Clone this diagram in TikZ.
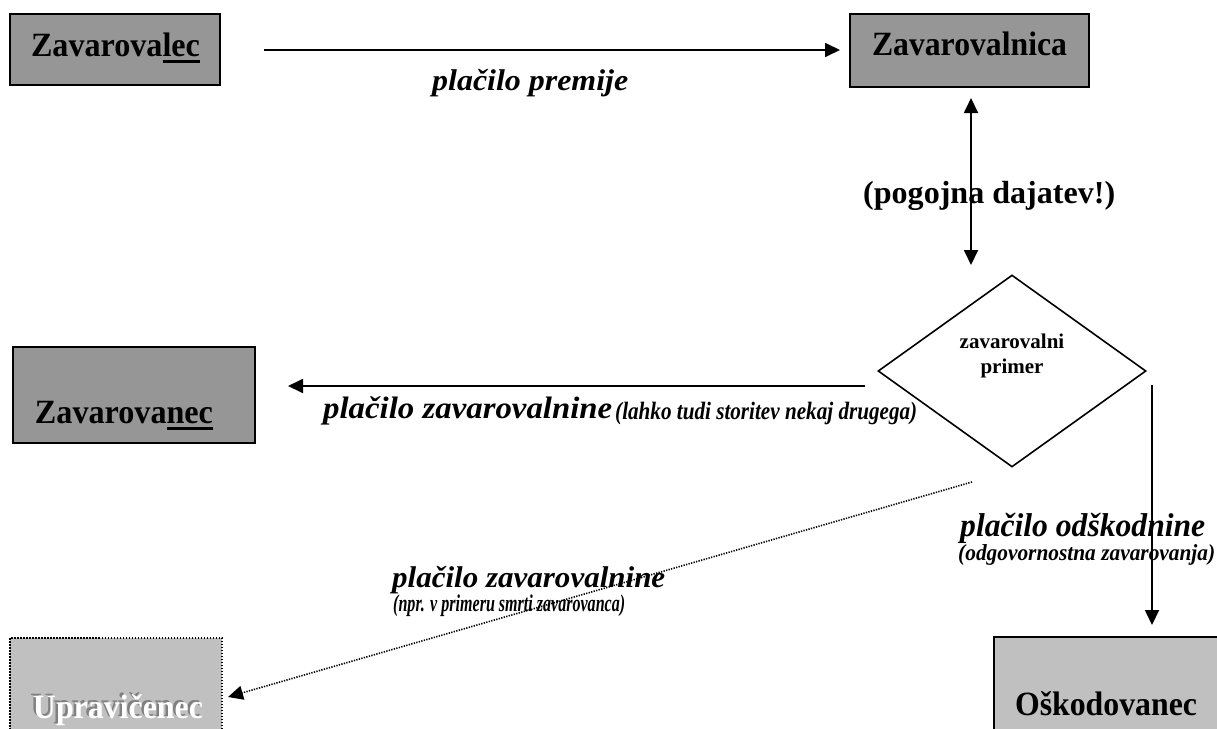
\documentclass[tikz,border=0pt]{standalone}
\usepackage{fontspec}
\setmainfont{Liberation Serif}
\usepackage{graphicx}
\usetikzlibrary{arrows.meta,shapes.geometric}
\definecolor{boxdark}{RGB}{150,150,150}
\definecolor{boxlight}{RGB}{192,192,192}
\definecolor{shadowgray}{RGB}{128,128,128}
\newcommand\ulpart[1]{\setbox0\hbox{#1}\rlap{\rule[-6.5pt]{\wd0}{2.6pt}}\box0}
\newcommand\fitw[2]{\resizebox{#1}{\height}{#2}}
\begin{document}
\begin{tikzpicture}[x=1pt,y=-1pt,
  darkbox/.style={draw=black, line width=2pt, fill=boxdark, inner sep=0pt},
  lightbox/.style={draw=black, line width=1.8pt, fill=boxlight, inner sep=0pt},
  boxtext/.style={font=\fontsize{34}{38}\selectfont\bfseries, anchor=base, inner sep=0pt},
  lbl/.style={anchor=base west, inner sep=0pt},
  conn/.style={line width=1.8pt, -{Triangle[length=15pt,width=14pt]}},
  dconn/.style={line width=1.8pt, {Triangle[length=15pt,width=14pt]}-{Triangle[length=15pt,width=14pt]}},
  dotconn/.style={line width=1.6pt, dash pattern=on 1.3pt off 1.3pt, -{Triangle[length=15pt,width=14pt]}},
]
\clip (0,0) rectangle (1217,728);
\fill[white] (0,0) rectangle (1217,728);

% boxes
\node[darkbox, minimum width=210pt, minimum height=71pt] (zvc) at (115,49.5) {};
\node[darkbox, minimum width=239pt, minimum height=73pt] (zvn) at (969.5,50.5) {};
\node[darkbox, minimum width=242pt, minimum height=96pt] (zvnec) at (134,395) {};
\node[lightbox, draw=black, dash pattern=on 1.5pt off 1.5pt, line width=1.5pt, minimum width=212pt, minimum height=170pt] (upr) at (116,723) {};
\node[lightbox, minimum width=266pt, minimum height=170pt] (osk) at (1127,722) {};
\node[diamond, draw=black, line width=1.6pt, fill=white, inner sep=0pt, minimum width=268pt, minimum height=192pt] (prim) at (1012,371) {};

% box texts
\node[boxtext] (tzvc) at (115.5,56) {\fitw{169pt}{Zavarova\ulpart{lec}}};
\node[boxtext] (tzvn) at (969.5,55) {\fitw{195pt}{Zavarovalnica}};
\node[boxtext] (tzvnec) at (124,423) {\fitw{178pt}{Zavarova\ulpart{nec}}};
\node[boxtext, text=shadowgray] (tuprs) at (115.5,716.5) {\fitw{170pt}{Upravičenec}};
\node[boxtext, text=white] (tupr) at (118,718.5) {\fitw{170pt}{Upravičenec}};
\node[boxtext] (tosk) at (1106,715) {\fitw{182pt}{Oškodovanec}};
\node[anchor=base, inner sep=0pt, font=\fontsize{21}{24}\selectfont\bfseries] (tprim1) at (1012,348) {zavarovalni};
\node[anchor=base, inner sep=0pt, font=\fontsize{21}{24}\selectfont\bfseries] (tprim2) at (1012,373) {primer};

% connector end points
\coordinate (a1) at (264,50);
\coordinate (a2) at (840,50);
\coordinate (b1) at (971,98);
\coordinate (b2) at (971,265);
\coordinate (c1) at (865,386);
\coordinate (c2) at (288,386);
\coordinate (d1) at (1152,385);
\coordinate (d2) at (1152,625);
\coordinate (e1) at (972,482);
\coordinate (e2) at (228,697);

\draw[conn] (a1) -- (a2);
\draw[dconn] (b1) -- (b2);
\draw[conn] (c1) -- (c2);
\draw[conn] (d1) -- (d2);
\draw[dotconn] (e1) -- (e2);

% labels
\node[lbl, font=\fontsize{30}{34}\selectfont\bfseries\itshape] (l1) at (432,90) {\fitw{196pt}{plačilo premije}};
\node[lbl, font=\fontsize{32}{36}\selectfont\bfseries] (l2) at (863,203) {\fitw{252pt}{(pogojna dajatev!)}};
\node[lbl, font=\fontsize{31}{34}\selectfont\bfseries\itshape] (l3) at (323,418) {\fitw{289pt}{plačilo zavarovalnine}};
\node[lbl, font=\fontsize{25}{28}\selectfont\bfseries\itshape] (l3b) at (615,419) {\fitw{302pt}{(lahko tudi storitev nekaj drugega)}};
\node[lbl, font=\fontsize{33}{36}\selectfont\bfseries\itshape] (l4) at (960,536) {\fitw{245pt}{plačilo odškodnine}};
\node[lbl, font=\fontsize{23}{26}\selectfont\bfseries\itshape] (l4b) at (958,560) {\fitw{257pt}{(odgovornostna zavarovanja)}};
\node[lbl, font=\fontsize{30}{34}\selectfont\bfseries\itshape] (l5) at (392,587) {\fitw{273pt}{plačilo zavarovalnine}};
\node[lbl, font=\fontsize{24}{28}\selectfont\bfseries\itshape] (l5b) at (393,611) {\fitw{232pt}{(npr. v primeru smrti zavarovanca)}};
\end{tikzpicture}
\end{document}
